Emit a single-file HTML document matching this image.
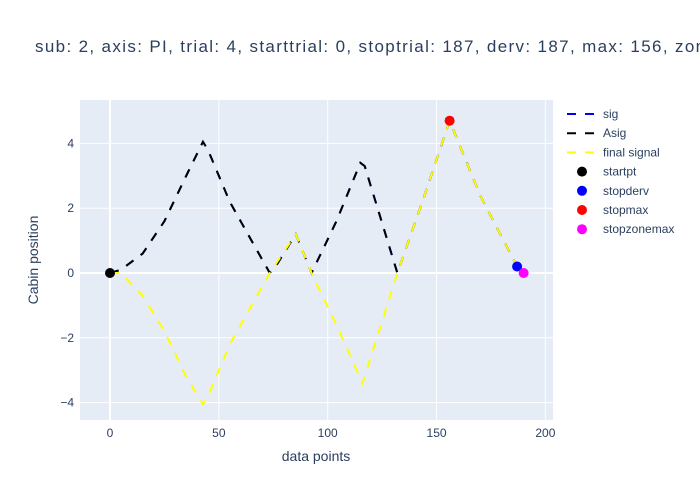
<!DOCTYPE html>
<html><head><meta charset="utf-8"><style>
body{margin:0;background:#fff;font-family:"Liberation Sans",sans-serif}
svg{display:block}
</style></head><body>
<svg id="c" width="700" height="500" style="overflow:hidden">
<rect x="80" y="100" width="473" height="320" fill="#e5ecf6"/>
<g id="grid"></g>
<g id="series"></g>
<text x="35" y="52" font-size="17" letter-spacing="1.35" fill="#2a3f5f">sub: 2, axis: PI, trial: 4, starttrial: 0, stoptrial: 187, derv: 187, max: 156, zonemax: 190</text>
<text x="316" y="461" font-size="14" fill="#2a3f5f" text-anchor="middle">data points</text>
<text x="38" y="260" font-size="14" fill="#2a3f5f" text-anchor="middle" transform="rotate(-90 38 260)">Cabin position</text>
<g id="legend" font-size="12" fill="#2a3f5f"></g>
</svg>
<script>
const xTicks=[0,50,100,150,200];
const yTicks=[-4,-2,0,2,4];
const asigX=[0,5,15,25,35,42.7,45,55,65,73.4,77,85.3,92.6,104,115,117,132,144,156,170,187,190];
const asigY=[0,0.1,0.6,1.6,3,4.05,3.8,2.2,1,0,0.3,1.2,0,1.6,3.4,3.3,0,2.3,4.7,2.4,0.2,0];
const finalX=[0,5,15,25,35,42.7,45,55,65,73.4,85.3,92.6,104,116,132,144,156,170,187,190];
const finalY=[0,0,-0.7,-1.8,-3.2,-4.05,-3.8,-2.2,-1,0,1.2,0,-1.6,-3.4,0,2.3,4.7,2.4,0.2,0];
const markerNames=["startpt","stopderv","stopmax","stopzonemax"];
const markerX=[0,187,156,190];
const markerY=[0,0.2,4.7,0];
const markerColors=["#000000","#0000ff","#ff0000","#ff00ff"];
const X=v=>110+v*2.177, Y=v=>273-v*32.4;
const NS="http://www.w3.org/2000/svg";
function mk(t,a,p){const e=document.createElementNS(NS,t);for(const k in a)e.setAttribute(k,a[k]);p.appendChild(e);return e;}
const grid=document.getElementById('grid');
xTicks.forEach(t=>{
 const l=mk('line',{x1:X(t),x2:X(t),y1:100,y2:420,stroke:'#fff','stroke-width':t===0?2:1},grid);
 
 
 const tx=mk('text',{x:X(t),y:437,'font-size':12,fill:'#2a3f5f','text-anchor':'middle'},grid);tx.textContent=t;
 
 
});
yTicks.forEach(t=>{
 const l=mk('line',{x1:80,x2:553,y1:Y(t),y2:Y(t),stroke:'#fff','stroke-width':t===0?2:1},grid);
 
 
 const tx=mk('text',{x:74,y:Y(t)+4,'font-size':12,fill:'#2a3f5f','text-anchor':'end'},grid);tx.textContent=t===0?'0':(t<0?'\u2212'+(-t):t);
 
 
});
const s=document.getElementById('series');
function pts(xs,ys){return xs.map((x,i)=>X(x)+','+Y(ys[i])).join(' ');}
const sig=mk('polyline',{points:pts(asigX,asigY),fill:'none',stroke:'#0000ff','stroke-width':2,'stroke-dasharray':'9,9'},s);


const a=mk('polyline',{points:pts(asigX,asigY),fill:'none',stroke:'#000','stroke-width':2,'stroke-dasharray':'9,9'},s);


const f=mk('polyline',{points:pts(finalX,finalY),fill:'none',stroke:'#ffff00','stroke-width':2,'stroke-dasharray':'9,9'},s);


markerX.forEach((x,i)=>{
 const c=mk('circle',{cx:X(x),cy:Y(markerY[i]),r:5,fill:markerColors[i]},s);
 
 
});
const lg=document.getElementById('legend');
const items=[["sig","line","#0000ff"],["Asig","line","#000"],["final signal","line","#ffff00"]].concat(markerNames.map((n,i)=>[n,"dot",markerColors[i]]));
items.forEach((it,i)=>{
 const y=114+i*19.2;
 const g=mk('g',{},lg);
 
 
 if(it[1]==='line')mk('line',{x1:567,x2:597,y1:y,y2:y,stroke:it[2],'stroke-width':2,'stroke-dasharray':'9,9'},g);
 else mk('circle',{cx:582,cy:y,r:5,fill:it[2]},g);
 const t=mk('text',{x:603,y:y+4},g);t.textContent=it[0];
});
</script>
</body></html>
